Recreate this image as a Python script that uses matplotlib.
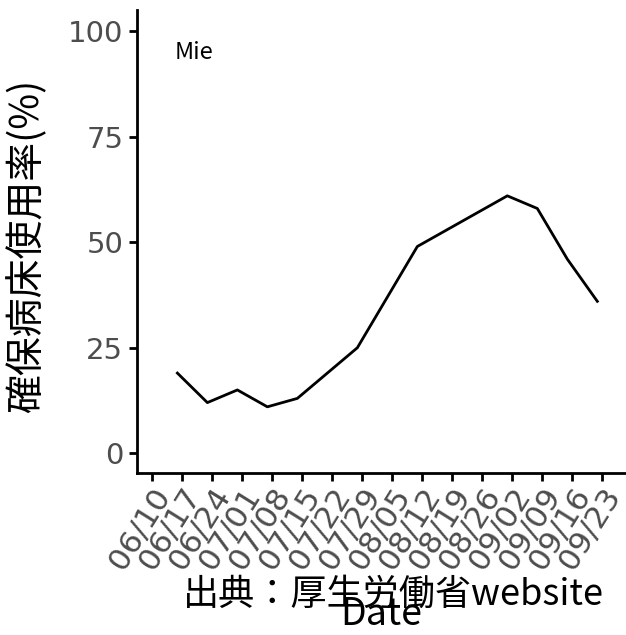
import matplotlib.pyplot as plt
import matplotlib.dates as mdates
import pandas as pd

plt.rcParams['font.family'] = ['Noto Sans CJK JP', 'DejaVu Sans']

# データ（三重県 確保病床使用率）
dates = pd.to_datetime([
    '2021-06-16', '2021-06-23', '2021-06-30', '2021-07-07', '2021-07-14',
    '2021-07-21', '2021-07-28', '2021-08-04', '2021-08-11', '2021-08-18',
    '2021-08-25', '2021-09-01', '2021-09-08', '2021-09-15', '2021-09-22',
])
usage = [19, 12, 15, 11, 13, 19, 25, 37, 49, 53, 57, 61, 58, 46, 36]

tick_dates = pd.date_range('2021-06-10', '2021-09-23', freq='7D')
y_ticks = [0, 25, 50, 75, 100]

fig = plt.figure(figsize=(6.26, 6.35), dpi=100)
ax = fig.add_axes([0.219, 0.255, 0.779, 0.729])

ax.plot(dates, usage, color='black', linewidth=2)

ax.set_xticks(tick_dates)
ax.xaxis.set_major_formatter(mdates.DateFormatter('%m/%d'))
ax.set_xlim(tick_dates[0] - pd.Timedelta(days=3.4), tick_dates[0] + pd.Timedelta(days=110.4))
ax.set_ylim(-4.7, 105)
ax.set_yticks(y_ticks)

for s in ['top', 'right']:
    ax.spines[s].set_visible(False)
for s in ['left', 'bottom']:
    ax.spines[s].set_linewidth(2)

ax.tick_params(axis='both', length=6, width=2, color='black', labelcolor='#4D4D4D',
               labelsize=21, labelfontfamily='DejaVu Sans')
ax.tick_params(axis='y', pad=4)
ax.tick_params(axis='x', pad=1, labelsize=22.5)
for lab in ax.get_xticklabels():
    lab.set_rotation(58)
    lab.set_ha('right')
    lab.set_va('top')
    lab.set_rotation_mode('anchor')

ax.text(tick_dates[0] + pd.Timedelta(days=9.8), 95, 'Mie', fontsize=17, ha='center', va='center')

ax.set_ylabel('確保病床使用率(%)', fontsize=28)
ax.yaxis.set_label_coords(-0.185, 0.49)
ax.set_xlabel('Date', fontsize=27, va='center')
ax.xaxis.set_label_coords(0.5, -0.305)

fig.text(0.965, 0.063, '出典：厚生労働省website', fontsize=26, ha='right', va='center')

plt.savefig('out.png', dpi=100)
